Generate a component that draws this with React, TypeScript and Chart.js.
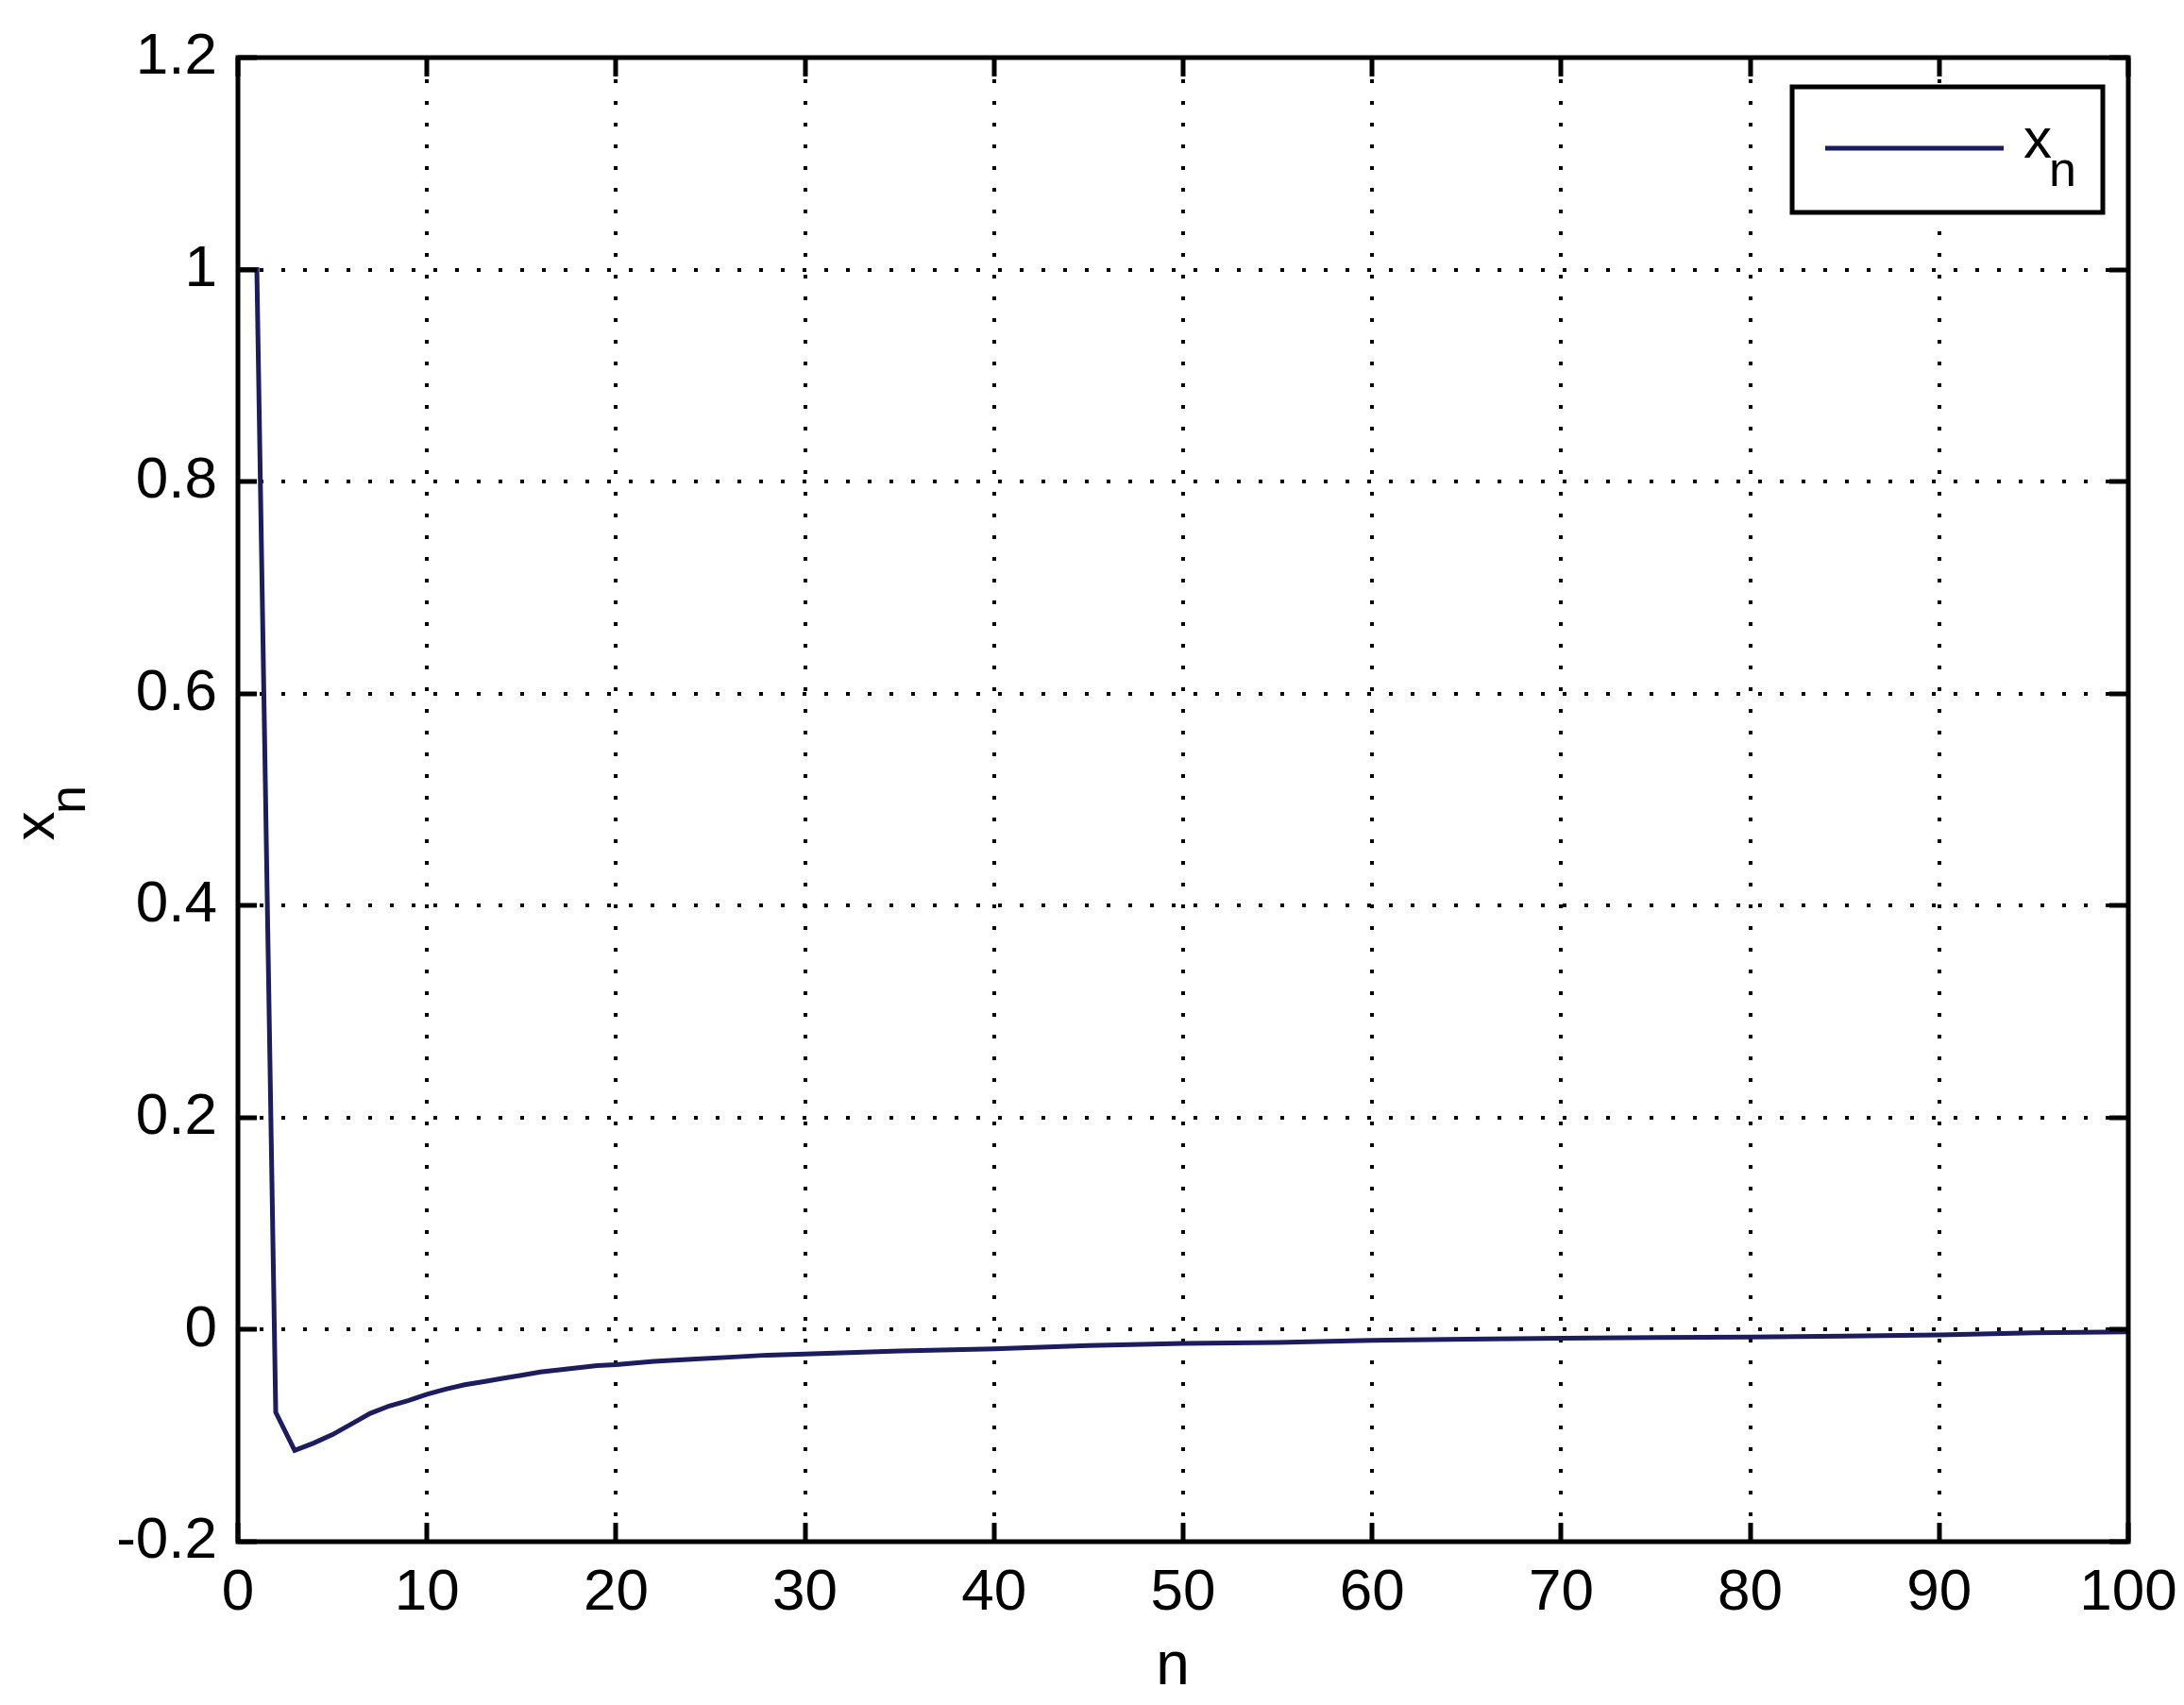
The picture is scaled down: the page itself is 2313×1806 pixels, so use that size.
import React, { useEffect, useRef } from "react";
import { Chart, registerables } from "chart.js";

Chart.register(...registerables);

// ---- data ----
const nValues = [
  0, 1, 2, 3, 4, 5, 6, 7, 8, 9, 10, 11, 12, 13, 14, 15, 16, 17, 18, 19, 20,
  22, 24, 26, 28, 30, 35, 40, 45, 50, 55, 60, 65, 70, 75, 80, 85, 90, 95, 100,
];
const xnValues = [
  1, 1, -0.078, -0.114, -0.107, -0.099, -0.089, -0.079, -0.072, -0.067, -0.061,
  -0.056, -0.052, -0.049, -0.046, -0.043, -0.04, -0.038, -0.036, -0.034, -0.033,
  -0.03, -0.028, -0.026, -0.024, -0.023, -0.02, -0.018, -0.015, -0.013, -0.012,
  -0.01, -0.009, -0.008, -0.0075, -0.007, -0.006, -0.005, -0.003, -0.002,
];
const xTickValues = [0, 10, 20, 30, 40, 50, 60, 70, 80, 90, 100];
const xTickLabels = ["0", "10", "20", "30", "40", "50", "60", "70", "80", "90", "100"];
const yTickValues = [-0.2, 0, 0.2, 0.4, 0.6, 0.8, 1, 1.2];
const yTickLabels = ["-0.2", "0", "0.2", "0.4", "0.6", "0.8", "1", "1.2"];
const seriesName = "x";
const seriesSub = "n";
const xAxisTitle = "n";
const yAxisTitle = "x";
const yAxisSub = "n";

const FONT = "'Liberation Sans', Arial, Helvetica, sans-serif";
const LINE_COLOR = "#1c1c5e";

export default function App() {
  const ref = useRef<HTMLCanvasElement>(null);

  useEffect(() => {
    const canvas = ref.current;
    if (!canvas) return;

    const decor = {
      id: "matlabDecor",
      afterDraw(chart: any) {
        const ctx = chart.ctx as CanvasRenderingContext2D;
        const { left, right, top, bottom } = chart.chartArea;
        const xs = chart.scales.x;
        const ys = chart.scales.y;
        ctx.save();
        ctx.strokeStyle = "#000";
        ctx.lineWidth = 5;
        ctx.lineCap = "butt";
        // inner ticks
        const tl = 20;
        ctx.beginPath();
        xTickValues.forEach((v) => {
          const px = Math.round(xs.getPixelForValue(v));
          ctx.moveTo(px, bottom);
          ctx.lineTo(px, bottom - tl);
          ctx.moveTo(px, top);
          ctx.lineTo(px, top + tl);
        });
        yTickValues.forEach((v) => {
          const py = Math.round(ys.getPixelForValue(v));
          ctx.moveTo(left, py);
          ctx.lineTo(left + tl, py);
          ctx.moveTo(right, py);
          ctx.lineTo(right - tl, py);
        });
        ctx.stroke();
        // box
        ctx.strokeRect(left, top, right - left, bottom - top);

        // legend
        const lx = 1898, ly = 92, lw = 329, lh = 133;
        ctx.fillStyle = "#fff";
        ctx.fillRect(lx, ly, lw, lh);
        ctx.lineWidth = 5;
        ctx.strokeRect(lx, ly, lw, lh);
        ctx.strokeStyle = LINE_COLOR;
        ctx.lineWidth = 5;
        ctx.beginPath();
        ctx.moveTo(1933, 157);
        ctx.lineTo(2122, 157);
        ctx.stroke();
        ctx.fillStyle = "#000";
        ctx.textAlign = "left";
        ctx.textBaseline = "alphabetic";
        ctx.font = `60px ${FONT}`;
        ctx.fillText(seriesName, 2143, 167);
        ctx.font = `52px ${FONT}`;
        ctx.fillText(seriesSub, 2170, 197);

        // x axis title
        ctx.textAlign = "center";
        ctx.font = `64px ${FONT}`;
        ctx.fillText(xAxisTitle, 1242, 1784);

        // y axis title (rotated)
        ctx.save();
        ctx.translate(57, 875);
        ctx.rotate(-Math.PI / 2);
        ctx.textAlign = "center";
        ctx.font = `62px ${FONT}`;
        ctx.fillText(yAxisTitle, 0, 0);
        ctx.font = `54px ${FONT}`;
        ctx.fillText(yAxisSub, 28, 33);
        ctx.restore();

        ctx.restore();
      },
    };

    const tickFont = { family: FONT, size: 62 };

    const chart = new Chart(canvas, {
      type: "line",
      data: {
        datasets: [
          {
            label: seriesName + seriesSub,
            data: nValues.map((n, i) => ({ x: n, y: xnValues[i] })),
            borderColor: LINE_COLOR,
            backgroundColor: LINE_COLOR,
            borderWidth: 5,
            pointRadius: 0,
            tension: 0,
            fill: false,
          },
        ],
      },
      options: {
        animation: false,
        responsive: false,
        devicePixelRatio: 1,
        layout: { padding: { top: 61, right: 59, left: 0, bottom: 0 } },
        plugins: {
          legend: { display: false },
          tooltip: { enabled: false },
        },
        scales: {
          x: {
            type: "linear",
            min: 0,
            max: 100,
            afterBuildTicks: (s: any) => {
              s.ticks = xTickValues.map((v) => ({ value: v }));
            },
            afterFit: (s: any) => {
              s.height = 173;
              s.paddingLeft = 0;
              s.paddingRight = 0;
              s.paddingTop = 0;
              s.paddingBottom = 0;
            },
            grid: { color: "#000", lineWidth: 4, drawTicks: false },
            border: { display: false, dash: [4, 19] },
            ticks: {
              color: "#000",
              font: tickFont,
              padding: 18,
              maxRotation: 0,
              autoSkip: false,
              callback: (_v: any, i: number) => xTickLabels[i],
            },
          },
          y: {
            type: "linear",
            min: -0.2,
            max: 1.2,
            afterBuildTicks: (s: any) => {
              s.ticks = yTickValues.map((v) => ({ value: v }));
            },
            afterFit: (s: any) => {
              s.width = 252;
              s.paddingLeft = 0;
              s.paddingRight = 0;
              s.paddingTop = 0;
              s.paddingBottom = 0;
            },
            grid: { color: "#000", lineWidth: 4, drawTicks: false },
            border: { display: false, dash: [4, 19] },
            ticks: {
              color: "#000",
              font: tickFont,
              padding: 22,
              autoSkip: false,
              callback: (_v: any, i: number) => yTickLabels[i],
            },
          },
        },
      },
      plugins: [decor],
    });

    return () => chart.destroy();
  }, []);

  return (
    <div
      style={{
        position: "absolute",
        left: 0,
        top: 0,
        width: 2313,
        height: 1806,
        background: "#fff",
        overflow: "hidden",
      }}
    >
      <canvas
        ref={ref}
        width={2313}
        height={1806}
        style={{ display: "block", width: 2313, height: 1806 }}
      />
    </div>
  );
}
